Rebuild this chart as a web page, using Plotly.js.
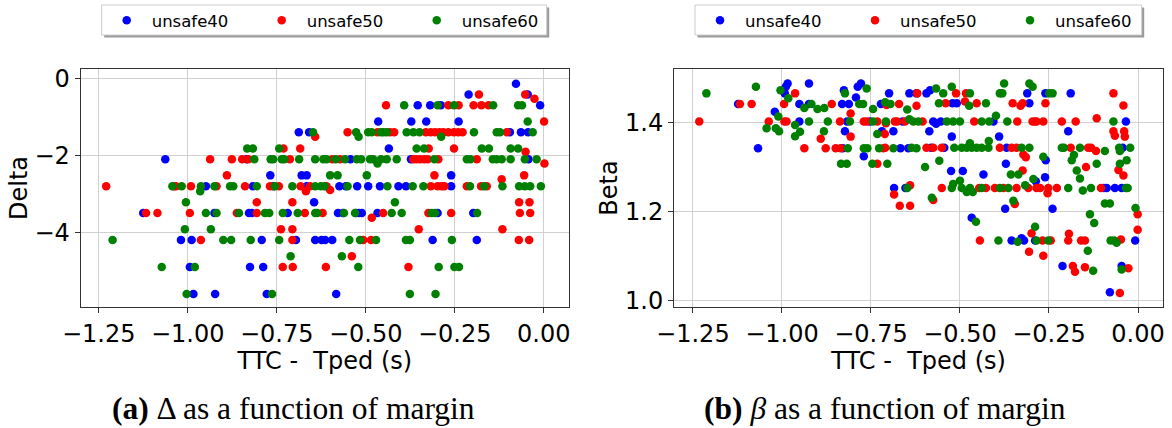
<!DOCTYPE html>
<html>
<head>
<meta charset="utf-8">
<script src="https://cdn.plot.ly/plotly-3.0.1.min.js"></script>
<style>html,body{margin:0;padding:0;background:#fff;}#chart{width:1172px;height:428px;}</style>
</head>
<body>
<div id="chart"></div>
<script>
// ---- data: [TTC - Tped (s), value] ----
const seriesNames = ['unsafe40', 'unsafe50', 'unsafe60'];
const seriesColors = ['#0000ff', '#ff0000', '#008000'];

const delta40 = [[-0.078,-0.14],[-0.211,-0.42],[-0.045,-0.42],[-0.354,-0.70],[-0.319,-0.70],[-0.289,-0.70],[-0.010,-0.70],
[-0.465,-1.12],[-0.372,-1.12],[-0.330,-1.12],[-0.239,-1.12],[-0.688,-1.40],[-0.659,-1.40],[-0.095,-1.40],[-0.064,-1.40],[-0.044,-1.40],
[-0.435,-1.82],[-1.063,-2.10],[-0.835,-2.10],[-0.543,-2.10],[-0.373,-2.10],[-0.043,-2.10],
[-0.768,-2.52],[-0.680,-2.52],[-0.666,-2.52],[-0.260,-2.52],
[-0.949,-2.80],[-0.817,-2.80],[-0.760,-2.80],[-0.666,-2.80],[-0.574,-2.80],[-0.556,-2.80],[-0.524,-2.80],[-0.493,-2.80],[-0.460,-2.80],[-0.408,-2.80],[-0.387,-2.80],[-0.260,-2.80],
[-0.645,-3.22],
[-1.125,-3.50],[-0.925,-3.50],[-0.828,-3.50],[-0.820,-3.50],[-0.719,-3.50],[-0.578,-3.50],[-0.564,-3.50],[-0.527,-3.50],[-0.519,-3.50],[-0.511,-3.50],[-0.467,-3.50],[-0.298,-3.50],[-0.198,-3.50],
[-1.019,-4.20],[-0.989,-4.20],[-0.792,-4.20],[-0.696,-4.20],[-0.642,-4.20],[-0.624,-4.20],[-0.614,-4.20],[-0.594,-4.20],[-0.312,-4.20],[-0.188,-4.20],
[-0.994,-4.90],[-0.825,-4.90],[-0.788,-4.90],
[-0.984,-5.60],[-0.923,-5.60],[-0.778,-5.60],[-0.583,-5.60]];

const delta50 = [[-0.182,-0.42],[-0.052,-0.42],[-0.026,-0.53],
[-0.443,-0.70],[-0.268,-0.70],[-0.239,-0.70],[-0.197,-0.70],[-0.175,-0.70],[-0.155,-0.70],
[0.001,-1.12],
[-0.642,-1.52],[-0.551,-1.40],[-0.467,-1.40],[-0.432,-1.40],[-0.420,-1.40],[-0.331,-1.40],[-0.317,-1.40],[-0.305,-1.40],[-0.293,-1.40],[-0.282,-1.40],[-0.268,-1.40],[-0.252,-1.40],[-0.240,-1.40],[-0.228,-1.40],[-0.104,-1.40],
[-0.731,-1.82],[-0.684,-1.82],[-0.323,-1.82],[-0.252,-1.82],[-0.051,-1.91],
[-0.937,-2.10],[-0.876,-2.10],[-0.847,-2.10],[-0.830,-2.10],[-0.713,-2.10],[-0.594,-2.10],[-0.572,-2.10],[-0.366,-2.10],[-0.357,-2.10],[-0.347,-2.10],[-0.336,-2.10],[-0.326,-2.10],[-0.296,-2.10],[-0.188,-2.10],[0.002,-2.21],
[-0.890,-2.52],[-0.307,-2.52],[-0.055,-2.52],[-0.118,-2.62],
[-1.229,-2.80],[-1.038,-2.80],[-1.033,-2.80],[-0.991,-2.80],[-0.919,-2.80],[-0.839,-2.80],[-0.769,-2.80],[-0.744,-2.80],[-0.683,-2.80],[-0.668,-2.93],[-0.656,-2.80],[-0.610,-2.80],[-0.600,-2.90],[-0.317,-2.80],[-0.298,-2.80],[-0.287,-2.80],[-0.279,-2.80],[-0.216,-2.80],[-0.176,-2.80],[-0.160,-2.80],
[-0.806,-3.22],[-0.706,-3.22],[-0.069,-3.22],[-0.040,-3.22],
[-1.117,-3.50],[-1.085,-3.50],[-0.994,-3.50],[-0.862,-3.50],[-0.806,-3.50],[-0.671,-3.50],[-0.621,-3.50],[-0.483,-3.62],[-0.451,-3.50],[-0.324,-3.50],[-0.260,-3.50],[-0.067,-3.50],[-0.038,-3.50],
[-0.738,-3.92],[-0.706,-3.92],[-0.351,-3.92],[-0.116,-3.92],
[-0.963,-4.20],[-0.706,-4.20],[-0.507,-4.20],[-0.485,-4.20],[-0.070,-4.20],[-0.041,-4.20],
[-0.539,-4.62],
[-0.733,-4.90],[-0.705,-4.90],[-0.612,-4.90],[-0.380,-4.90]];

const delta60 = [[-0.392,-0.70],[-0.298,-0.70],[-0.252,-0.70],[-0.142,-0.70],[-0.072,-0.70],[-0.061,-0.70],
[-0.045,-1.12],
[-0.648,-1.40],[-0.527,-1.40],[-0.520,-1.52],[-0.493,-1.40],[-0.483,-1.40],[-0.457,-1.40],[-0.450,-1.40],[-0.441,-1.40],[-0.385,-1.40],[-0.366,-1.40],[-0.349,-1.40],[-0.288,-1.52],[-0.196,-1.40],[-0.132,-1.40],[-0.123,-1.40],[-0.031,-1.40],
[-0.833,-1.82],[-0.817,-1.82],[-0.743,-1.82],[-0.357,-1.82],[-0.336,-1.82],[-0.174,-1.82],[-0.154,-1.82],[-0.093,-1.82],[-0.072,-1.82],
[-0.813,-2.10],[-0.767,-2.10],[-0.760,-2.10],[-0.736,-2.10],[-0.729,-2.10],[-0.687,-2.10],[-0.642,-2.10],[-0.619,-2.10],[-0.610,-2.10],[-0.584,-2.10],[-0.558,-2.10],[-0.525,-2.10],[-0.513,-2.10],[-0.488,-2.10],[-0.479,-2.10],[-0.467,-2.21],[-0.457,-2.10],[-0.441,-2.10],[-0.413,-2.10],[-0.307,-2.10],[-0.216,-2.10],[-0.206,-2.10],[-0.143,-2.10],[-0.132,-2.10],[-0.118,-2.10],[-0.093,-2.10],[-0.053,-2.10],[-0.020,-2.10],
[-0.600,-2.52],[-0.579,-2.52],[-0.497,-2.52],
[-1.043,-2.80],[-1.017,-2.80],[-0.965,-2.93],[-0.963,-2.80],[-0.925,-2.80],[-0.881,-2.80],[-0.872,-2.80],[-0.806,-2.80],[-0.755,-2.80],[-0.706,-2.80],[-0.642,-2.80],[-0.626,-2.80],[-0.616,-2.80],[-0.551,-2.80],[-0.439,-2.80],[-0.368,-2.80],[-0.338,-2.80],[-0.207,-2.80],[-0.167,-2.80],[-0.116,-2.80],[-0.069,-2.80],[-0.053,-2.80],[-0.038,-2.80],[-0.008,-2.80],
[-1.005,-3.22],[-0.418,-3.22],
[-0.949,-3.50],[-0.919,-3.50],[-0.856,-3.50],[-0.783,-3.50],[-0.771,-3.50],[-0.733,-3.50],[-0.691,-3.50],[-0.642,-3.50],[-0.636,-3.50],[-0.561,-3.50],[-0.530,-3.50],[-0.427,-3.50],[-0.399,-3.50],[-0.315,-3.50],[-0.305,-3.50],[-0.187,-3.50],
[-1.008,-3.92],[-0.935,-3.92],
[-1.211,-4.20],[-0.900,-4.20],[-0.878,-4.20],[-0.823,-4.20],[-0.743,-4.20],[-0.546,-4.20],[-0.516,-4.20],[-0.471,-4.20],[-0.387,-4.20],[-0.376,-4.20],[-0.258,-4.20],
[-0.711,-4.62],[-0.567,-4.62],
[-1.073,-4.90],[-0.980,-4.90],[-0.521,-4.90],[-0.295,-4.90],[-0.251,-4.90],[-0.238,-4.90],
[-1.003,-5.60],[-0.763,-5.60],[-0.376,-5.60],[-0.304,-5.60]];

const beta40 = [[-1.123,1.441],[-1.067,1.342],[-1.020,1.424],[-0.992,1.465],[-0.989,1.480],[-0.984,1.487],[-0.951,1.441],[-0.951,1.402],[-0.924,1.487],[-0.924,1.441],
[-0.831,1.441],[-0.829,1.342],[-0.826,1.472],[-0.823,1.380],[-0.817,1.402],[-0.812,1.441],[-0.792,1.456],[-0.787,1.480],[-0.778,1.487],[-0.770,1.324],
[-0.753,1.402],[-0.719,1.380],[-0.722,1.441],[-0.699,1.465],[-0.687,1.380],[-0.685,1.253],[-0.667,1.342],[-0.661,1.402],[-0.645,1.342],[-0.642,1.465],
[-0.653,1.253],[-0.622,1.465],[-0.594,1.465],[-0.584,1.472],[-0.311,1.465],[-0.260,1.465],[-0.189,1.465],[-0.521,1.443],[-0.509,1.443],[-0.305,1.443],
[-0.575,1.402],[-0.567,1.397],[-0.554,1.402],[-0.406,1.402],[-0.034,1.402],[-0.586,1.380],[-0.196,1.380],[-0.523,1.368],[-0.390,1.368],
[-0.581,1.343],[-0.544,1.343],[-0.369,1.343],[-0.043,1.343],[-0.525,1.291],[-0.492,1.291],[-0.434,1.283],[-0.371,1.307],[-0.287,1.268],[-0.261,1.277],[-0.259,1.315],
[-0.096,1.253],[-0.088,1.253],[-0.065,1.253],[-0.046,1.253],[-0.373,1.206],[-0.240,1.206],[-0.467,1.186],
[-0.355,1.135],[-0.327,1.140],[-0.320,1.135],[-0.289,1.135],[-0.008,1.135],[-0.212,1.078],[-0.046,1.078],[-0.079,1.019]];

const beta50 = [[-1.232,1.402],[-1.118,1.441],[-1.085,1.441],[-1.037,1.402],[-0.994,1.441],[-0.993,1.402],[-0.987,1.402],[-0.963,1.465],[-0.937,1.342],[-0.891,1.363],
[-0.877,1.342],[-0.860,1.441],[-0.849,1.342],[-0.837,1.402],[-0.835,1.342],[-0.807,1.420],[-0.807,1.368],[-0.770,1.402],[-0.762,1.402],[-0.732,1.307],
[-0.732,1.402],[-0.711,1.374],[-0.706,1.439],[-0.708,1.398],[-0.715,1.342],[-0.710,1.343],[-0.671,1.441],[-0.685,1.238],[-0.669,1.213],[-0.683,1.402],
[-0.676,1.402],[-0.654,1.402],[-0.640,1.259],[-0.640,1.213],[-0.620,1.465],[-0.622,1.437],
[-0.511,1.465],[-0.483,1.465],[-0.069,1.465],
[-0.540,1.443],[-0.486,1.447],[-0.453,1.443],[-0.352,1.443],[-0.330,1.437],[-0.324,1.443],[-0.260,1.443],[-0.041,1.438],
[-0.605,1.402],[-0.460,1.402],[-0.339,1.402],[-0.296,1.402],[-0.289,1.402],[-0.285,1.402],[-0.266,1.402],[-0.214,1.402],[-0.175,1.402],[-0.116,1.409],
[-0.069,1.380],[-0.039,1.380],[-0.065,1.370],[-0.037,1.368],
[-0.594,1.343],[-0.575,1.343],[-0.551,1.343],[-0.388,1.343],[-0.355,1.343],[-0.341,1.343],[-0.322,1.328],[-0.315,1.322],[-0.189,1.343],[-0.140,1.343],[-0.132,1.343],[-0.118,1.336],
[-0.324,1.292],[-0.146,1.300],[-0.055,1.293],[-0.041,1.281],
[-0.551,1.253],[-0.446,1.253],[-0.427,1.253],[-0.402,1.253],[-0.378,1.253],[-0.341,1.253],[-0.308,1.253],[-0.285,1.253],[-0.275,1.253],[-0.254,1.241],[-0.252,1.253],[-0.228,1.253],[-0.104,1.253],
[-0.575,1.226],[-0.346,1.217],[-0.001,1.194],[-0.001,1.159],[-0.299,1.151],[-0.194,1.150],
[-0.444,1.135],[-0.268,1.135],[-0.245,1.135],[-0.196,1.135],[-0.160,1.135],[-0.149,1.135],[-0.048,1.137],
[-0.306,1.110],[-0.266,1.101],[-0.183,1.078],[-0.177,1.065],[-0.149,1.075],[-0.027,1.073],[-0.051,1.017]];

const beta60 = [[-1.212,1.465],[-1.073,1.480],[-1.043,1.387],[-1.017,1.387],[-1.008,1.380],[-1.010,1.413],[-1.004,1.472],[-0.982,1.454],[-0.963,1.394],[-0.963,1.369],
[-0.949,1.379],[-0.937,1.432],[-0.917,1.441],[-0.924,1.402],[-0.900,1.430],[-0.881,1.432],[-0.882,1.380],[-0.871,1.402],[-0.823,1.465],[-0.834,1.307],
[-0.818,1.307],[-0.809,1.402],[-0.815,1.342],[-0.762,1.476],[-0.783,1.441],[-0.772,1.441],[-0.770,1.342],[-0.760,1.342],[-0.744,1.402],[-0.744,1.430],
[-0.746,1.307],[-0.727,1.342],[-0.732,1.374],[-0.704,1.307],[-0.710,1.445],[-0.708,1.402],[-0.695,1.441],[-0.687,1.342],[-0.648,1.429],[-0.648,1.253],
[-0.642,1.407],[-0.631,1.402],[-0.622,1.342],[-0.617,1.402],
[-0.567,1.476],[-0.547,1.465],[-0.523,1.480],[-0.472,1.465],[-0.388,1.465],[-0.376,1.487],[-0.381,1.465],[-0.305,1.487],[-0.296,1.480],[-0.249,1.465],[-0.240,1.465],
[-0.559,1.443],[-0.474,1.437],[-0.427,1.443],
[-0.537,1.402],[-0.519,1.402],[-0.500,1.402],[-0.439,1.402],[-0.418,1.402],[-0.399,1.415],[-0.367,1.402],[-0.069,1.402],
[-0.419,1.358],[-0.472,1.353],
[-0.636,1.343],[-0.516,1.343],[-0.495,1.343],[-0.481,1.343],[-0.467,1.343],[-0.453,1.343],[-0.439,1.343],[-0.420,1.343],[-0.327,1.343],[-0.305,1.343],[-0.214,1.343],[-0.208,1.343],[-0.163,1.343],[-0.093,1.336],[-0.053,1.343],[-0.022,1.343],[-0.051,1.336],[-0.180,1.327],[-0.186,1.315],
[-0.598,1.300],[-0.558,1.314],[-0.357,1.283],[-0.336,1.283],[-0.294,1.273],[-0.266,1.323],[-0.172,1.292],[-0.163,1.274],[-0.116,1.307],[-0.051,1.307],[-0.032,1.315],
[-0.523,1.253],[-0.519,1.262],[-0.500,1.269],[-0.495,1.253],[-0.481,1.244],[-0.464,1.244],[-0.472,1.253],[-0.439,1.253],[-0.388,1.253],[-0.364,1.253],[-0.317,1.259],[-0.196,1.253],[-0.155,1.247],[-0.132,1.253],[-0.034,1.253],[-0.029,1.253],
[-0.579,1.231],[-0.350,1.224],[-0.093,1.218],[-0.079,1.218],[-0.007,1.208],[-0.135,1.194],[-0.123,1.174],[-0.455,1.177],[-0.289,1.166],
[-0.392,1.135],[-0.338,1.132],[-0.285,1.135],[-0.252,1.135],[-0.077,1.135],[-0.067,1.135],[-0.060,1.130],
[-0.141,1.112],[-0.126,1.067],[-0.046,1.070]];

const xTitle = 'TTC -\u00a0 Tped (s)';
const yTitleLeft = 'Delta';
const yTitleRight = 'Beta';
const captionLeft = '<b>(a)</b> Δ as a function of margin';
const captionRight = '<b>(b)</b> <i>β</i> as a function of margin';

// ---- build ----
const W = 1172, H = 428;
const px = v => v / W;
const py = v => 1 - v / H;

const leftSets = [delta40, delta50, delta60];
const rightSets = [beta40, beta50, beta60];
const traces = [];
leftSets.forEach((s, i) => traces.push({
  type: 'scatter', mode: 'markers', name: seriesNames[i],
  x: s.map(p => p[0]), y: s.map(p => p[1]), xaxis: 'x', yaxis: 'y',
  marker: {color: seriesColors[i], size: 8.5, line: {width: 0}},
  legend: 'legend', legendwidth: i === 2 ? 78 : 100
}));
rightSets.forEach((s, i) => traces.push({
  type: 'scatter', mode: 'markers', name: seriesNames[i],
  x: s.map(p => p[0]), y: s.map(p => p[1]), xaxis: 'x2', yaxis: 'y2',
  marker: {color: seriesColors[i], size: 8.5, line: {width: 0}},
  legend: 'legend2', legendwidth: i === 2 ? 78 : 100
}));

const font = 'DejaVu Sans, sans-serif';
const axisBase = {
  showline: true, mirror: true, linecolor: '#333', linewidth: 1,
  ticks: 'outside', ticklen: 5, tickwidth: 1, tickcolor: '#333',
  showgrid: true, gridcolor: '#d0d0d0', gridwidth: 1, zeroline: false,
  tickfont: {family: font, size: 24, color: '#000'}
};
const yDomain = [py(306.7), py(69.3)];

const legendBase = {
  orientation: 'h', xanchor: 'left', yanchor: 'top', y: py(3),
  font: {family: font, size: 16.5, color: '#000'},
  bgcolor: 'rgba(0,0,0,0)', borderwidth: 0,
  itemwidth: 40, entrywidthmode: 'pixels', entrywidth: 100, itemsizing: 'trace'
};

function legendFrame(x0, x1) {
  return [
    {type: 'rect', xref: 'paper', yref: 'paper', x0: px(x0 + 2.5), x1: px(x1 + 2.5), y0: py(37.5), y1: py(7.5),
     fillcolor: '#9a9a9a', line: {width: 0}, layer: 'above'},
    {type: 'rect', xref: 'paper', yref: 'paper', x0: px(x0), x1: px(x1), y0: py(35), y1: py(5),
     fillcolor: '#ffffff', line: {color: '#cccccc', width: 1}, layer: 'above'}
  ];
}

const layout = {
  width: W, height: H,
  margin: {l: 0, r: 0, t: 0, b: 0},
  paper_bgcolor: '#ffffff', plot_bgcolor: '#ffffff',
  showlegend: true,
  xaxis: Object.assign({}, axisBase, {domain: [px(80.7), px(569)], range: [-1.3006, 0.071], anchor: 'y',
    dtick: 0.25, tick0: 0, tickformat: '.2f',
    title: {text: xTitle, font: {family: font, size: 24, color: '#000'}, standoff: 4}}),
  yaxis: Object.assign({}, axisBase, {domain: yDomain, range: [-5.93, 0.234], anchor: 'x',
    dtick: 2, tick0: 0,
    title: {text: yTitleLeft, font: {family: font, size: 24, color: '#000'}, standoff: 0}}),
  xaxis2: Object.assign({}, axisBase, {domain: [px(674), px(1163.3)], range: [-1.303, 0.071], anchor: 'y2',
    dtick: 0.25, tick0: 0, tickformat: '.2f',
    title: {text: xTitle, font: {family: font, size: 24, color: '#000'}, standoff: 4}}),
  yaxis2: Object.assign({}, axisBase, {domain: yDomain, range: [0.9865, 1.519], anchor: 'x2',
    dtick: 0.2, tick0: 0, tickformat: '.1f',
    title: {text: yTitleRight, font: {family: font, size: 24, color: '#000'}, standoff: 0}}),
  legend: Object.assign({}, legendBase, {x: px(101.7)}),
  legend2: Object.assign({}, legendBase, {x: px(695)}),
  shapes: legendFrame(101.7, 546.7).concat(legendFrame(695, 1141.7)),
  annotations: [
    {text: captionLeft, xref: 'paper', yref: 'paper', x: px(293), y: py(408), xanchor: 'center', yanchor: 'middle',
     showarrow: false, font: {family: 'Liberation Serif, serif', size: 31.5, color: '#000'}},
    {text: captionRight, xref: 'paper', yref: 'paper', x: px(885), y: py(408), xanchor: 'center', yanchor: 'middle',
     showarrow: false, font: {family: 'Liberation Serif, serif', size: 31.5, color: '#000'}}
  ]
};

Plotly.newPlot('chart', traces, layout, {staticPlot: true, displayModeBar: false});
</script>
</body>
</html>
